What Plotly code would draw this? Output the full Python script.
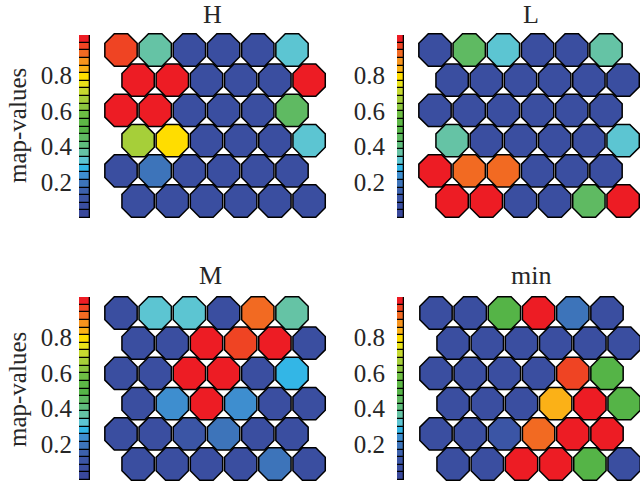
import plotly.graph_objects as go

W, H = 640, 481

# ---------------- data ----------------
panel_titles = ["H", "L", "M", "min"]

H_values = [
    [0.96, 0.36, 0.08, 0.08, 0.08, 0.32],
    [1.00, 1.00, 0.08, 0.08, 0.08, 1.00],
    [1.00, 1.00, 0.08, 0.08, 0.08, 0.43],
    [0.68, 0.79, 0.08, 0.08, 0.08, 0.32],
    [0.08, 0.19, 0.08, 0.08, 0.08, 0.08],
    [0.08, 0.08, 0.08, 0.08, 0.08, 0.08],
]
L_values = [
    [0.08, 0.43, 0.32, 0.08, 0.08, 0.36],
    [0.08, 0.08, 0.08, 0.08, 0.08, 0.08],
    [0.08, 0.08, 0.08, 0.08, 0.08, 0.08],
    [0.36, 0.08, 0.08, 0.08, 0.08, 0.32],
    [1.00, 0.92, 0.92, 0.08, 0.08, 0.08],
    [1.00, 1.00, 0.08, 0.08, 0.43, 1.00],
]
M_values = [
    [0.08, 0.32, 0.32, 0.08, 0.92, 0.36],
    [0.08, 0.08, 1.00, 0.96, 1.00, 0.08],
    [0.08, 0.08, 1.00, 1.00, 0.08, 0.28],
    [0.08, 0.23, 1.00, 0.23, 0.08, 0.08],
    [0.08, 0.08, 0.11, 0.19, 0.08, 0.08],
    [0.08, 0.08, 0.08, 0.08, 0.19, 0.08],
]
min_values = [
    [0.08, 0.08, 0.49, 1.00, 0.19, 0.08],
    [0.08, 0.08, 0.08, 0.08, 0.08, 0.08],
    [0.08, 0.08, 0.08, 0.08, 0.96, 0.49],
    [0.08, 0.08, 0.08, 0.83, 1.00, 0.49],
    [0.08, 0.08, 0.11, 0.92, 1.00, 1.00],
    [0.08, 0.08, 1.00, 1.00, 0.49, 0.08],
]

# discrete colour map, bottom (low) to top (high)
cbar_colors = [
    "#39489b", "#3a4ea0", "#3b55a5", "#3c61ad", "#3d74ba", "#3e8ecf",
    "#33b6e6", "#5cc5d2", "#65c3a5", "#5fbd7d", "#5fba62", "#55b447",
    "#5db846", "#6ebe44", "#8cc63f", "#a6cf39", "#c6d92f", "#e8e21a",
    "#ffdd00", "#fbb117", "#f7941d", "#f26a22", "#ef4423", "#ed1c24",
]
cbar_max = 1.025
cbar_tickvals = [0.2, 0.4, 0.6, 0.8]
cbar_ticktext = ["0.2", "0.4", "0.6", "0.8"]
y_label = "map-values"

# ---------------- layout constants (window pixels) ----------------
FONT = "Liberation Serif, Times New Roman, serif"
TXT = "#262626"
DX, DY = 34.2, 30.2
MSIZE = 35

panels = [
    dict(vals=H_values, ox=121, oy=50, cx0=79, cx1=90, cy0=35, cy1=218, tx=212, ty=14, ly=126, so=6),
    dict(vals=L_values, ox=435, oy=50, cx0=397, cx1=404, cy0=35, cy1=218, tx=531, ty=14, ly=None, so=11),
    dict(vals=M_values, ox=121, oy=313, cx0=79, cx1=90, cy0=297, cy1=480, tx=210, ty=275, ly=390, so=6),
    dict(vals=min_values, ox=436, oy=313, cx0=397, cx1=404, cy0=297, cy1=480, tx=531, ty=275, ly=None, so=11),
]


def fx(p):
    return p / W


def fy(p):
    return 1 - p / H


n = len(cbar_colors)
colorscale = []
for i, c in enumerate(cbar_colors):
    colorscale.append([i / n, c])
    colorscale.append([(i + 1) / n, c])

step = cbar_max / n
levels = [i * step for i in range(n + 1)]

fig = go.Figure()
layout = dict(
    width=W, height=H, margin=dict(l=0, r=0, t=0, b=0),
    paper_bgcolor="white", plot_bgcolor="white",
    showlegend=False, barmode="overlay", bargap=0,
    font=dict(family=FONT, color=TXT),
)
annotations = []

for k, p in enumerate(panels):
    hx = 2 * k + 1
    cx = 2 * k + 2
    xs, ys, cs = [], [], []
    for r, row in enumerate(p["vals"]):
        for c, v in enumerate(row):
            xs.append(c + 0.5 * (r % 2))
            ys.append(r)
            cs.append(v)
    fig.add_trace(go.Scatter(
        x=xs, y=ys, mode="markers", cliponaxis=False, hoverinfo="skip",
        marker=dict(symbol="octagon", size=MSIZE, color=cs, colorscale=colorscale,
                    cmin=0, cmax=cbar_max, showscale=False,
                    line=dict(color="black", width=1.5)),
        xaxis=f"x{hx}", yaxis=f"y{hx}",
    ))
    pl, pr = max(0, p["ox"] - 25), min(W, p["ox"] + 5.5 * DX + 25)
    pt, pb = max(0, p["oy"] - 25), min(H, p["oy"] + 5 * DY + 25)
    layout[f"xaxis{hx}"] = dict(domain=[fx(pl), fx(pr)], range=[(pl - p["ox"]) / DX, (pr - p["ox"]) / DX],
                                visible=False, anchor=f"y{hx}")
    layout[f"yaxis{hx}"] = dict(domain=[fy(pb), fy(pt)], range=[(pb - p["oy"]) / DY, (pt - p["oy"]) / DY],
                                visible=False, anchor=f"x{hx}")

    fig.add_trace(go.Bar(
        x=[0] * n, y=[levels[i + 1] - levels[i] for i in range(n)], base=levels[:-1],
        width=1, marker=dict(color=cbar_colors, line=dict(color="black", width=1.3)),
        hoverinfo="skip", xaxis=f"x{cx}", yaxis=f"y{cx}",
    ))
    layout[f"xaxis{cx}"] = dict(domain=[fx(p["cx0"]), fx(p["cx1"])], range=[-0.5, 0.5],
                                visible=False, anchor=f"y{cx}")
    layout[f"yaxis{cx}"] = dict(domain=[fy(p["cy1"]), fy(p["cy0"])], range=[0, cbar_max],
                                anchor=f"x{cx}", side="left", showgrid=False, zeroline=False,
                                showline=False, ticks="", tickvals=cbar_tickvals, ticktext=cbar_ticktext,
                                tickfont=dict(family=FONT, size=25, color=TXT),
                                ticklabelstandoff=p["so"])

    annotations.append(dict(text=panel_titles[k], x=fx(p["tx"]), y=fy(p["ty"]), xref="paper", yref="paper",
                            showarrow=False, xanchor="center", yanchor="middle",
                            font=dict(family=FONT, size=26, color=TXT)))
    if p["ly"] is not None:
        annotations.append(dict(text=y_label, x=fx(17), y=fy(p["ly"]), xref="paper", yref="paper",
                                showarrow=False, xanchor="center", yanchor="middle", textangle=-90,
                                font=dict(family=FONT, size=25, color=TXT)))

layout["annotations"] = annotations
fig.update_layout(**layout)
fig.write_html("out.html", config={"displayModeBar": False},
               post_script="document.body.style.margin='0px';")
